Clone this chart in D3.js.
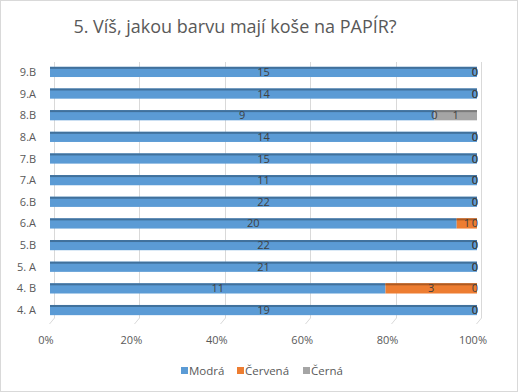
<!DOCTYPE html>
<html>
<head>
<meta charset="utf-8">
<script src="https://cdn.jsdelivr.net/npm/d3@7"></script>
<style>
  body { margin: 0; background: #fff; }
  svg { font-family: "Open Sans", sans-serif; }
</style>
</head>
<body>
<div id="chart"></div>
<script>
// data, bottom row first
var classes = ["4. A", "4. B", "5. A", "5.B", "6.A", "6.B", "7.A", "7.B", "8.A", "8.B", "9.A", "9.B"];
var modra   = [19, 11, 21, 22, 20, 22, 11, 15, 14, 9, 14, 15];
var cervena = [0, 3, 0, 0, 1, 0, 0, 0, 0, 0, 0, 0];
var cerna   = [0, 0, 0, 0, 0, 0, 0, 0, 0, 1, 0, 0];
var seriesNames = ["Modrá", "Červená", "Černá"];
var ticks = [0, 0.2, 0.4, 0.6, 0.8, 1];

var colors = ["#5b9bd5", "#ed7d31", "#a5a5a5"];
var topColors = ["#41719c", "#ae5a21", "#7c7c7c"];

var width = 518, height = 392;
var depth = 4; // fake 3d offset of the back wall

var svg = d3.select("#chart").append("svg")
    .attr("width", width)
    .attr("height", height);

// outer border
svg.append("rect")
    .attr("x", 0.5).attr("y", 0.5)
    .attr("width", width - 1).attr("height", height - 1)
    .attr("fill", "#fff")
    .attr("stroke", "#d9d9d9");

var x = d3.scaleLinear().domain([0, 1]).range([50, 477]);
var y = d3.scaleBand()
    .domain(classes.slice().reverse())
    .range([61, 321])
    .paddingInner(0.53)
    .paddingOuter(0.27);

// build table for stack
var rows = classes.map(function(c, i) {
    var total = modra[i] + cervena[i] + cerna[i];
    return { cls: c, total: total, "Modrá": modra[i], "Červená": cervena[i], "Černá": cerna[i] };
});
var stacked = d3.stack().keys(seriesNames)
    .value(function(d, k) { return d[k] / d.total; })(rows);

// gridlines (back wall + floor edge)
var grid = svg.append("g");
ticks.forEach(function(t) {
    var gx = Math.round(x(t)) + depth + 0.5;
    grid.append("path")
        .attr("d", "M" + gx + "," + 62 + "V" + 318 + "L" + (gx - depth - 1) + "," + 324)
        .attr("fill", "none")
        .attr("stroke", "#d9d9d9")
        .attr("stroke-width", 1);
});

// bars
var bars = svg.append("g");
stacked.forEach(function(s, si) {
    s.forEach(function(d) {
        var w = x(d[1]) - x(d[0]);
        if (w <= 0) return;
        var by = y(d.data.cls);
        bars.append("rect")
            .attr("x", x(d[0])).attr("y", by)
            .attr("width", w).attr("height", y.bandwidth())
            .attr("fill", colors[si]);
        bars.append("rect")
            .attr("x", x(d[0])).attr("y", by)
            .attr("width", w).attr("height", 2)
            .attr("fill", topColors[si]);
    });
});

// value labels
var labels = svg.append("g")
    .attr("font-size", 11)
    .attr("fill", "#404040")
    .attr("text-anchor", "middle");
stacked.forEach(function(s, si) {
    s.forEach(function(d, i) {
        var v = d.data[seriesNames[si]];
        var lx = (x(d[0]) + x(d[1])) / 2;
        if (v === 0 && d[1] >= 1) lx = x(1) - 2;
        labels.append("text")
            .attr("x", lx)
            .attr("y", y(d.data.cls) + y.bandwidth() / 2 + 4)
            .text(v);
    });
});

// category axis labels
var yl = svg.append("g")
    .attr("font-size", 11)
    .attr("fill", "#595959")
    .attr("text-anchor", "end");
classes.forEach(function(c) {
    yl.append("text")
        .attr("x", 36)
        .attr("y", y(c) + y.bandwidth() / 2 + 4)
        .text(c);
});

// percentage axis labels
var xl = svg.append("g")
    .attr("font-size", 11)
    .attr("fill", "#595959")
    .attr("text-anchor", "middle");
ticks.forEach(function(t) {
    xl.append("text")
        .attr("x", x(t) - 4)
        .attr("y", 344)
        .text(d3.format(".0%")(t));
});

// title
svg.append("text")
    .attr("x", 235).attr("y", 33)
    .attr("text-anchor", "middle")
    .attr("font-size", 18)
    .attr("fill", "#595959")
    .text("5. Víš, jakou barvu mají koše na PAPÍR?");

// legend
var legendX = [181, 237, 303];
var lg = svg.append("g").attr("font-size", 11.5).attr("fill", "#595959");
seriesNames.forEach(function(n, i) {
    lg.append("rect")
        .attr("x", legendX[i]).attr("y", 367)
        .attr("width", 7).attr("height", 7)
        .attr("fill", colors[i]);
    lg.append("text")
        .attr("x", legendX[i] + 8).attr("y", 374.5)
        .text(n);
});
</script>
</body>
</html>
